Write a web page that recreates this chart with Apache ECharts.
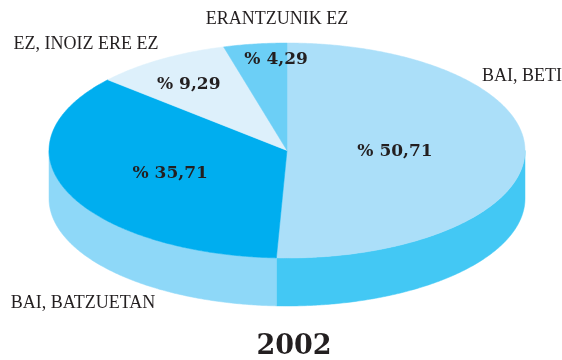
<!DOCTYPE html>
<html>
<head>
<meta charset="utf-8">
<script src="https://cdn.jsdelivr.net/npm/echarts@6/dist/echarts.min.js"></script>
<style>
  html, body { margin: 0; padding: 0; background: #fff; }
  #chart { width: 562px; height: 360px; }
</style>
</head>
<body>
<div id="chart"></div>
<script>
// Survey answers, 2002 (percent)
const categories = ['BAI, BETI', 'BAI, BATZUETAN', 'EZ, INOIZ ERE EZ', 'ERANTZUNIK EZ'];
const values = [50.71, 35.71, 9.29, 4.29];
const yearLabel = '2002';

// Styling
const topColors  = ['#abdff9', '#00aeef', '#ddf0fb', '#6ccff6'];
const sideColors = ['#43c8f4', '#8ed8f8', '#c9e9f9', '#5fc6f0'];

// Tilted pie geometry (px)
const PIE = { cx: 287, cy: 150.5, rx: 238, ry: 107.5, depth: 48, startAngle: 90 };

// In-slice value label placement: [radius fraction, angle shift in degrees]
const valueLabelPlace = [[0.454, 0], [0.534, 0], [0.737, 1.9], [0.843, -4.6]];
// Category label centres
const nameLabelPos = [[522, 76], [83, 303], [86, 44], [277, 19]];

const total = values.reduce((a, b) => a + b, 0);
// Clockwise slices: each slice runs from angle a down to angle b
const slices = [];
let acc = PIE.startAngle;
values.forEach(v => {
  const sweep = v / total * 360;
  slices.push({ a: acc, b: acc - sweep });
  acc -= sweep;
});

const rad = d => d * Math.PI / 180;
const pt = (deg, dy) => [PIE.cx + PIE.rx * Math.cos(rad(deg)), PIE.cy - PIE.ry * Math.sin(rad(deg)) + (dy || 0)];

function arc(from, to, dy) {
  const pts = [];
  const n = Math.max(2, Math.ceil(Math.abs(from - to) / 0.5));
  for (let i = 0; i <= n; i++) pts.push(pt(from + (to - from) * i / n, dy));
  return pts;
}

function fmt(v) { return '% ' + v.toFixed(2).replace('.', ','); }

function renderSide(params, api) {
  const s = slices[params.dataIndex];
  const children = [];
  // front half of the rim is where sin < 0: intervals [-180 + 360k, 360k]
  for (let k = -2; k <= 1; k++) {
    const lo = Math.max(s.b, -180 + 360 * k);
    const hi = Math.min(s.a, 360 * k);
    if (hi - lo > 0.01) {
      const upper = arc(hi, lo, 0);
      const lower = arc(lo, hi, PIE.depth);
      children.push({
        type: 'polygon',
        shape: { points: upper.concat(lower) },
        style: { fill: sideColors[params.dataIndex], stroke: sideColors[params.dataIndex], lineWidth: 0.5 }
      });
    }
  }
  return { type: 'group', children };
}

function renderTop(params, api) {
  const i = params.dataIndex;
  const s = slices[i];
  const pts = [[PIE.cx, PIE.cy]].concat(arc(s.a, s.b, 0));
  const mid = (s.a + s.b) / 2 + valueLabelPlace[i][1];
  const r = valueLabelPlace[i][0];
  const lx = PIE.cx + PIE.rx * r * Math.cos(rad(mid));
  const ly = PIE.cy - PIE.ry * r * Math.sin(rad(mid));
  return {
    type: 'group',
    children: [
      {
        type: 'polygon',
        shape: { points: pts },
        style: { fill: topColors[i], stroke: topColors[i], lineWidth: 0.5 }
      },
      {
        type: 'text',
        x: lx, y: ly,
        style: {
          text: fmt(api.value(0)),
          fill: '#231f20',
          font: 'bold 17px "DejaVu Serif"',
          align: 'center', verticalAlign: 'middle'
        },
        z2: 10
      }
    ]
  };
}

const chart = echarts.init(document.getElementById('chart'), null, { renderer: 'canvas' });
chart.setOption({
  backgroundColor: '#ffffff',
  animation: false,
  series: [
    { type: 'custom', coordinateSystem: 'none', renderItem: renderSide, data: values.map(v => [v]), z: 1 },
    { type: 'custom', coordinateSystem: 'none', renderItem: renderTop, data: values.map(v => [v]), z: 2 }
  ],
  graphic: categories.map((name, i) => ({
    type: 'text',
    x: nameLabelPos[i][0], y: nameLabelPos[i][1],
    style: {
      text: name, fill: '#231f20',
      font: '18px "Liberation Serif"',
      align: 'center', verticalAlign: 'middle'
    }
  })).concat([{
    type: 'text',
    x: 294, y: 347,
    style: {
      text: yearLabel, fill: '#231f20',
      font: 'bold 27px "DejaVu Serif"',
      align: 'center', verticalAlign: 'middle'
    }
  }])
});
</script>
</body>
</html>
